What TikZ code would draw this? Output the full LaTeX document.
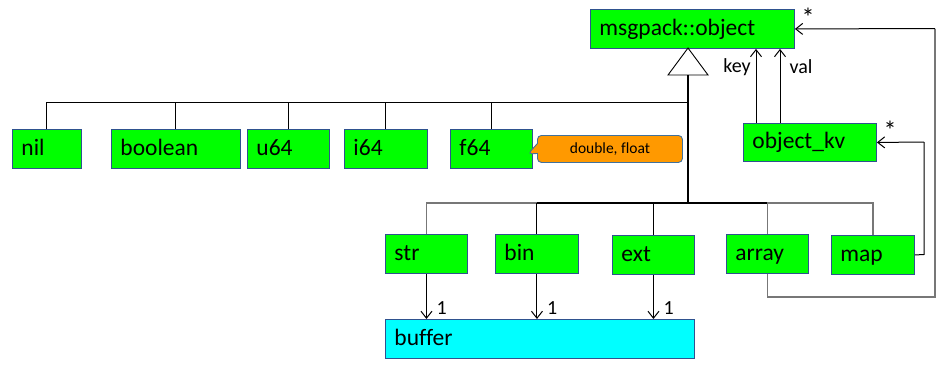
\documentclass[tikz,border=0pt]{standalone}
\usepackage{fontspec}
\setmainfont[Ligatures=NoCommon]{Carlito}
\usetikzlibrary{arrows.meta,shapes.callouts}
\definecolor{boxgreen}{HTML}{00FF00}
\definecolor{boxcyan}{HTML}{00FFFF}
\definecolor{boxedge}{HTML}{2F528F}
\definecolor{noteorange}{HTML}{FF9900}
\definecolor{noteedge}{HTML}{41719C}
\definecolor{linegray}{HTML}{777777}
\begin{document}
\begin{tikzpicture}[x=1pt,y=-1pt,
  box/.style={draw=boxedge, line width=0.9pt, fill=boxgreen, anchor=north west,
    inner xsep=9pt, inner ysep=0pt, align=left, text height=14pt, text depth=1pt,
    font=\fontsize{23.5}{27}\selectfont},
  conn/.style={draw=black, line width=1pt},
  openarrow/.style={-{Straight Barb[length=7pt,width=11pt,line width=1pt]}},
  lbl/.style={inner sep=0pt, font=\fontsize{20}{23}\selectfont},
  star/.style={inner sep=0pt, font=\fontsize{26}{30}\selectfont},
  note/.style={rectangle callout, draw=noteedge, line width=0.9pt, fill=noteorange,
    rounded corners=4pt, anchor=north west, inner sep=0pt,
    font=\fontsize{15.5}{18}\selectfont}
]
\useasboundingbox (0,0) rectangle (941,368);

% boxes
\node[box, text width=186pt, minimum height=39pt] (obj) at (590,9) {msgpack::object};
\node[box, text width=51pt, minimum height=39pt] (nil) at (12,129) {nil};
\node[box, text width=111pt, minimum height=39pt] (bool) at (111,129) {boolean};
\node[box, text width=64pt, minimum height=39pt] (u64) at (247,129) {u64};
\node[box, text width=65pt, minimum height=39pt] (i64) at (344,129) {i64};
\node[box, text width=64pt, minimum height=39pt] (f64) at (450,129) {f64};
\node[box, text width=115pt, minimum height=38pt] (kv) at (743,123) {object\_kv};
\node[box, text width=64pt, minimum height=39pt] (str) at (385,234) {str};
\node[box, text width=65pt, minimum height=39pt] (bin) at (495,234) {bin};
\node[box, text width=64pt, minimum height=39pt] (ext) at (612,235) {ext};
\node[box, text width=64pt, minimum height=39pt] (array) at (726,234) {array};
\node[box, text width=65pt, minimum height=39pt] (map) at (831,235) {map};
\node[box, fill=boxcyan, text width=291pt, minimum height=39pt] (buffer) at (385,319) {buffer};

% callout
\node[note, minimum width=145pt, minimum height=27pt,
  callout absolute pointer={(528,154)}, callout pointer width=10pt] (note) at (537,135) {double, float};

% generalization
\coordinate (apex) at (688,48);
\coordinate (tribase) at (688,75);
\coordinate (jtop) at (688,102);
\coordinate (jbot) at (688,203);
\draw[line width=0.9pt, fill=white] (apex) -- (708,75) -- (668,75) -- cycle;
\draw[line width=1.8pt] (tribase) -- (jbot);

\draw[conn] (nil.north) |- (jtop);
\foreach \n in {bool,u64,i64,f64} \draw[conn] (\n.north) -- (\n.north |- jtop);

\draw[conn, draw=linegray, line width=1.2pt] (str.north) |- (bin.north |- jbot);
\draw[conn, line width=1.2pt] (bin.north |- jbot) -- (array.north |- jbot);
\draw[conn] (bin.north) -- (bin.north |- jbot);
\draw[conn] (ext.north) -- (ext.north |- jbot);
\draw[conn, draw=linegray, line width=1.2pt] (array.north) |- (map.north |- jbot) -- (map.north);

% buffer arrows
\foreach \n in {str,bin,ext} {
  \draw[conn, openarrow] (\n.south) -- (\n.south |- buffer.north);
  \node[lbl, anchor=west] at ([xshift=10pt]\n.south |- 0,308) {1};
}

% key / val
\draw[conn, openarrow] (kv.north -| 756,0) -- (obj.south -| 756,0);
\draw[conn, openarrow] (kv.north -| 780,0) -- (obj.south -| 780,0);
\node[lbl] (keylbl) at (737,67) {key};
\node[lbl] (vallbl) at (801,67) {val};

% array -> object
\coordinate (ar1) at (767,297);
\coordinate (ar2) at (935,297);
\coordinate (ar3) at (935,28.5);
\draw[conn, draw=linegray, line width=1.2pt] (array.south) |- (ar2) -- (ar3);
\draw[conn, openarrow] (ar3) -- (obj.east);
\node[star, anchor=north] (star1) at (808,8) {*};

% map -> object_kv
\coordinate (mp1) at (924,254.5);
\coordinate (mp2) at (924,142);
\draw[conn] (map.east) -- (mp1) -- (mp2);
\draw[conn, openarrow] (mp2) -- (kv.east);
\node[star, anchor=north] (star2) at (890,121) {*};
\end{tikzpicture}
\end{document}
